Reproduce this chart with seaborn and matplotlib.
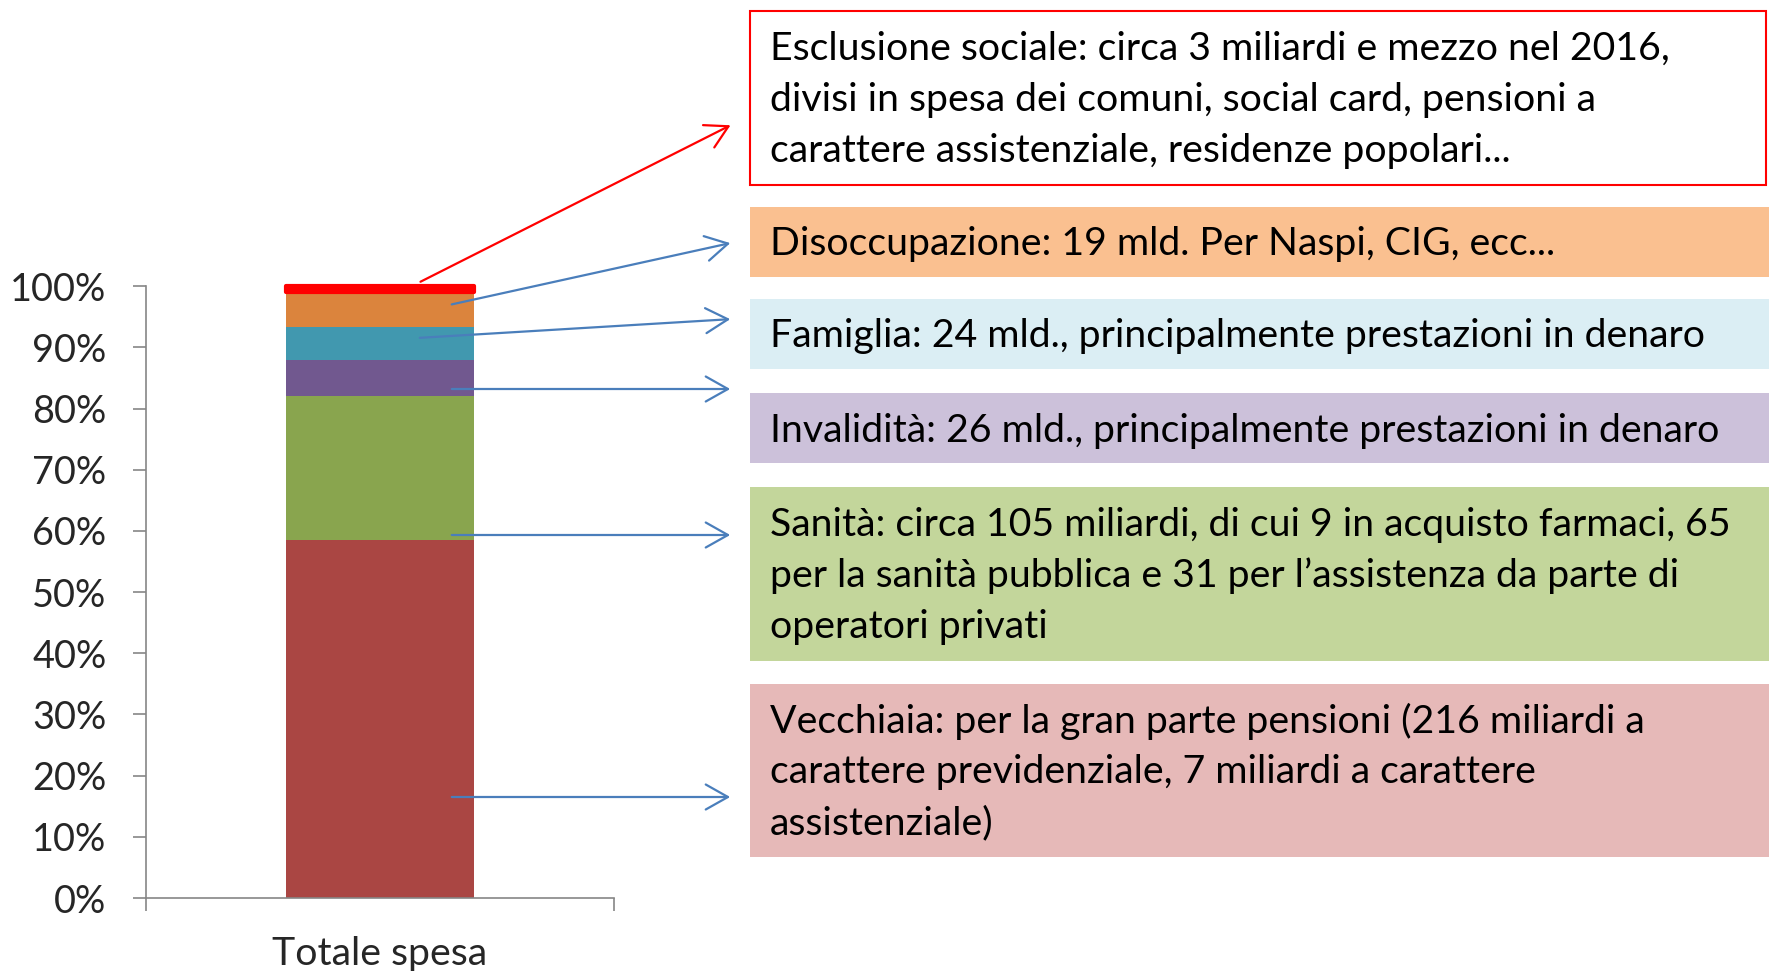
import numpy as np
import pandas as pd
import matplotlib
matplotlib.use("Agg")
import matplotlib.pyplot as plt
import seaborn as sns
from matplotlib.patches import Rectangle, FancyArrowPatch

# Data (shares of total spending, bottom to top)
voci = ["Vecchiaia", "Sanità", "Invalidità", "Famiglia", "Disoccupazione", "Esclusione sociale"]
quote = [58.5, 23.5, 5.9, 5.4, 5.7, 1.0]
colori_barre = ["#AA4643", "#89A54E", "#71588F", "#4198AF", "#DB843D", "#FF0000"]
categoria = ["Totale spesa"]
y_ticks = list(range(0, 101, 10))
y_tick_labels = [f"{v}%" for v in y_ticks]

# Box texts, top to bottom
testo_esclusione = ["Esclusione sociale: circa 3 miliardi e mezzo nel 2016,",
                    "divisi in spesa dei comuni, social card, pensioni a",
                    "carattere assistenziale, residenze popolari..."]
testo_disoccupazione = ["Disoccupazione: 19 mld. Per Naspi, CIG, ecc..."]
testo_famiglia = ["Famiglia: 24 mld., principalmente prestazioni in denaro"]
testo_invalidita = ["Invalidità: 26 mld., principalmente prestazioni in denaro"]
testo_sanita = ["Sanità: circa 105 miliardi, di cui 9 in acquisto farmaci, 65",
                "per la sanità pubblica e 31 per l\u2019assistenza da parte di",
                "operatori privati"]
testo_vecchiaia = ["Vecchiaia: per la gran parte pensioni (216 miliardi a",
                   "carattere previdenziale, 7 miliardi a carattere",
                   "assistenziale)"]

W, H = 1769, 971
sns.set_style("ticks")
plt.rcParams["font.family"] = ["Lato", "DejaVu Sans"]

def fx(px):
    return px / W

def fy(py):
    return 1 - py / H

fig = plt.figure(figsize=(W / 100, H / 100), dpi=100)
ax = fig.add_axes([fx(146), fy(898), (614 - 146) / W, (898 - 286.3) / H])

# stacked bar: draw cumulative totals from the top down so each overlaps the next
cumulate = np.cumsum(quote)
df = pd.DataFrame({"categoria": categoria * len(voci), "voce": voci, "cumulata": cumulate})
for i in reversed(range(len(voci))):
    sns.barplot(data=df.iloc[[i]], x="categoria", y="cumulata", color=colori_barre[i],
                saturation=1, width=0.4, errorbar=None, linewidth=0, ax=ax)

# the thin "esclusione" slice is drawn as a thick red cap
top = ax.patches[0]
top.set_y(cumulate[-2])
top.set_height(quote[-1])
top.set_edgecolor("#FF0000")
top.set_linewidth(3)
top.set_joinstyle("round")
top.set_zorder(5)
top.set_clip_on(False)

ax.set_ylim(0, 100)
ax.set_xlim(-0.5, 0.5)
ax.set_xlabel("")
ax.set_ylabel("")
ax.set_yticks(y_ticks, y_tick_labels)
ax.set_xticks([0], categoria)
ax.set_xticks([-0.5, 0.5], minor=True)
ax.tick_params(axis="y", length=9.5, width=1.2, color="#868686", pad=19, labelsize=27.3)
ax.tick_params(axis="x", which="major", length=0, pad=27, labelsize=28.3)
ax.tick_params(axis="x", which="minor", length=9.5, width=1.2, color="#868686")
for s in ["top", "right"]:
    ax.spines[s].set_visible(False)
for s in ["left", "bottom"]:
    ax.spines[s].set_color("#868686")
    ax.spines[s].set_linewidth(1.2)

# description boxes
box_layout = [
    (11, 185, "white", "#FF0000", testo_esclusione),
    (207.5, 277.5, "#FAC090", "none", testo_disoccupazione),
    (299, 369, "#DBEEF4", "none", testo_famiglia),
    (393.5, 463.5, "#CCC1DA", "none", testo_invalidita),
    (487, 661, "#C3D69B", "none", testo_sanita),
    (683.5, 857, "#E6B9B8", "none", testo_vecchiaia),
]
for y0, y1, face, edge, righe in box_layout:
    right = 1766 if edge != "none" else W
    fig.add_artist(Rectangle((fx(750), fy(y1)), (right - 750) / W, (y1 - y0) / H,
                             transform=fig.transFigure, facecolor=face, edgecolor=edge,
                             linewidth=1.5))
    yc = (y0 + y1) / 2 + 2
    n = len(righe)
    for k, riga in enumerate(righe):
        fig.text(fx(769.5), fy(yc + (k - (n - 1) / 2) * 51), riga, fontsize=28.3,
                 ha="left", va="center", color="black")

# arrows from the bar to the boxes (pixel positions)
frecce = [
    ((418, 283), (733, 124), "#FF0000"),
    ((449, 305), (733, 242.5), "#4A7EBB"),
    ((417, 338), (733, 319), "#4A7EBB"),
    ((449, 389), (733, 389), "#4A7EBB"),
    ((449, 535), (733, 535), "#4A7EBB"),
    ((449, 797), (733, 797), "#4A7EBB"),
]
for (xa, ya), (xb, yb), c in frecce:
    fig.add_artist(FancyArrowPatch((fx(xa), fy(ya)), (fx(xb), fy(yb)),
                                   transform=fig.transFigure, color=c, lw=1.6,
                                   arrowstyle="->,head_length=0.8,head_width=0.45",
                                   mutation_scale=20, zorder=6))

fig.savefig("out.png", dpi=100)
